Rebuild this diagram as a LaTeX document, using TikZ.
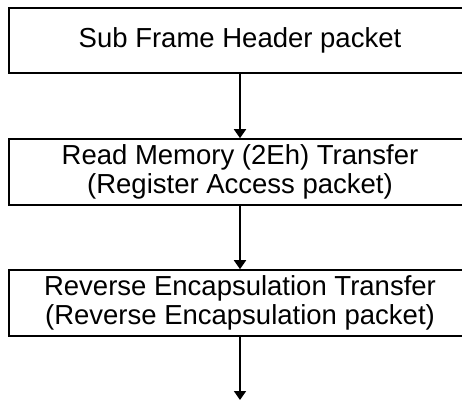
\documentclass[tikz,border=0pt]{standalone}
\usepackage{fontspec}
\setmainfont{Liberation Sans}
\usetikzlibrary{arrows.meta}
\begin{document}
\begin{tikzpicture}[x=1pt,y=1pt,
  box/.style={draw=black, line width=1.6pt, minimum width=462pt, inner sep=0pt,
    font=\fontsize{27.5}{29.5}\selectfont, align=center},
  conn/.style={line width=1.8pt, -{Triangle[width=12pt,length=9pt]}}]
\useasboundingbox (0,0) rectangle (462,401);
\clip (0,0) rectangle (462,401);
\node[box, minimum height=65pt] (b1) at (240,360.5) {Sub Frame Header packet};
\node[box, minimum height=66pt] (b2) at (240,229) {Read Memory (2Eh) Transfer\\(Register Access packet)};
\node[box, minimum height=66pt] (b3) at (240,98) {Reverse Encapsulation Transfer\\(Reverse Encapsulation packet)};
\coordinate (end) at (240,1);
\draw[conn] (b1.south) -- (b2.north);
\draw[conn] (b2.south) -- (b3.north);
\draw[conn] (b3.south) -- (end);
\end{tikzpicture}
\end{document}
